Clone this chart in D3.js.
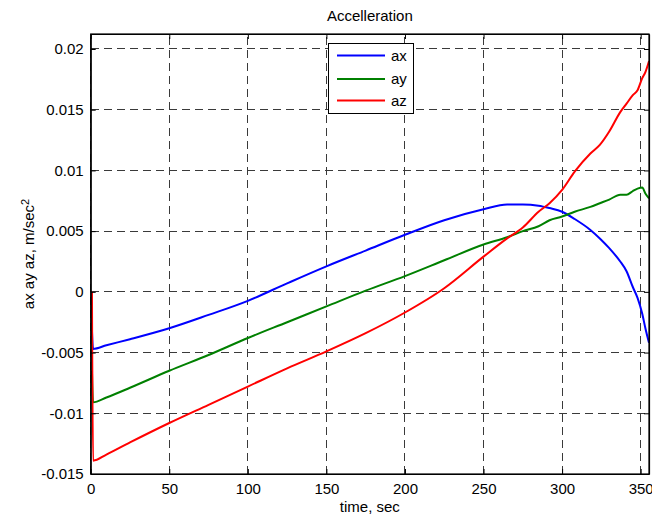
<!DOCTYPE html>
<html>
<head>
<meta charset="utf-8">
<script src="https://cdn.jsdelivr.net/npm/d3@7/dist/d3.min.js"></script>
<style>
  body { margin: 0; background: #fff; }
  svg { display: block; font-family: "Liberation Sans", Arial, sans-serif; }
</style>
</head>
<body>
<svg id="chart" width="652" height="516"></svg>
<script>
const titleText = "Accelleration";
const xLabel = "time, sec";
const seriesNames = ["ax", "ay", "az"];
const seriesColors = ["#0000ff", "#008000", "#ff0000"];
const xTicks = [0, 50, 100, 150, 200, 250, 300, 350];
const yTicks = [-0.015, -0.01, -0.005, 0, 0.005, 0.01, 0.015, 0.02];
const yTickLabels = ["-0.015", "-0.01", "-0.005", "0", "0.005", "0.01", "0.015", "0.02"];

const time = [0.8, 1.5, 10, 25, 50, 75, 100, 125, 150, 175, 200, 225, 250, 265, 275, 285, 292, 300, 308, 318, 324, 330, 337, 341, 345, 348, 351, 353, 355.3];
const ax = [-0.0032, -0.0047, -0.0044, -0.0039, -0.0030, -0.0019, -0.00074, 0.0007, 0.0021, 0.0034, 0.0047, 0.0059, 0.0068, 0.0072, 0.0072, 0.0071, 0.0069, 0.0066, 0.0060, 0.0051, 0.0044, 0.0036, 0.0025, 0.0017, 0.0004, -0.0005, -0.0018, -0.0030, -0.0042];
const ay = [-0.0065, -0.0091, -0.0087, -0.0079, -0.0065, -0.0052, -0.0038, -0.0025, -0.0012, 0.0001, 0.0013, 0.0026, 0.0039, 0.0045, 0.0050, 0.0054, 0.0059, 0.0062, 0.0066, 0.0070, 0.0073, 0.0076, 0.0080, 0.0080, 0.0083, 0.0085, 0.0086, 0.0081, 0.0077];
const az = [0.0, -0.0139, -0.0134, -0.0124, -0.0108, -0.0093, -0.0078, -0.0063, -0.0049, -0.0034, -0.0017, 0.0003, 0.0029, 0.0044, 0.0053, 0.0066, 0.0073, 0.0084, 0.0099, 0.0114, 0.0121, 0.0132, 0.0148, 0.0155, 0.0162, 0.0166, 0.0176, 0.0181, 0.0190];
const seriesValues = [ax, ay, az];

const svg = d3.select("#chart");
const L = 90.7, R = 649, T = 34, B = 474;
const x = d3.scaleLinear().domain([0, 355.3]).range([L, R]);
const y = d3.scaleLinear().domain([-0.015, 0.021235]).range([B, T]);

svg.append("rect").attr("width", 652).attr("height", 516).attr("fill", "#fff");

// grid
const grid = svg.append("g").attr("stroke", "#3a3a3a").attr("stroke-width", 1).attr("stroke-dasharray", "8,5").attr("shape-rendering", "crispEdges");
grid.selectAll(".gx").data(xTicks).join("line")
  .attr("x1", d => x(d)).attr("x2", d => x(d)).attr("y1", B).attr("y2", T);
grid.selectAll(".gy").data(yTicks).join("line")
  .attr("x1", L).attr("x2", R).attr("y1", d => y(d)).attr("y2", d => y(d));

// lines
const line = d3.line().x(d => x(d[0])).y(d => y(d[1])).curve(d3.curveMonotoneX);
seriesValues.forEach((vals, i) => {
  svg.append("path")
    .datum(time.map((t, j) => [t, vals[j]]))
    .attr("fill", "none")
    .attr("stroke", seriesColors[i])
    .attr("stroke-width", 2)
    .attr("stroke-linejoin", "round")
    .attr("d", line);
});

// axes with inward ticks (MATLAB style)
const fs = "15px";
const axB = svg.append("g").attr("transform", `translate(0,${B})`)
  .call(d3.axisBottom(x).tickValues(xTicks).tickSizeInner(-5).tickSizeOuter(0).tickPadding(9));
const axL = svg.append("g").attr("transform", `translate(${L},0)`)
  .call(d3.axisLeft(y).tickValues(yTicks).tickFormat((d, i) => yTickLabels[i]).tickSizeInner(-5).tickSizeOuter(0).tickPadding(7));
const axT = svg.append("g").attr("transform", `translate(0,${T})`)
  .call(d3.axisTop(x).tickValues(xTicks).tickSizeInner(-5).tickSizeOuter(0).tickFormat(""));
const axR = svg.append("g").attr("transform", `translate(${R},0)`)
  .call(d3.axisRight(y).tickValues(yTicks).tickSizeInner(-5).tickSizeOuter(0).tickFormat(""));
[axB, axL, axT, axR].forEach(g => {
  g.select(".domain").attr("stroke", "#000").attr("stroke-width", 1.2);
  g.selectAll(".tick line").attr("stroke", "#000");
  g.selectAll("text").attr("fill", "#000").style("font-size", fs).style("font-family", "'Liberation Sans', Arial, sans-serif");
});
axB.selectAll("text").attr("dy", "0.71em");

// box
svg.append("rect").attr("x", L).attr("y", T).attr("width", R - L).attr("height", B - T)
  .attr("fill", "none").attr("stroke", "#000").attr("stroke-width", 1.2);

// title & labels
svg.append("text").attr("x", (L + R) / 2).attr("y", 21).attr("text-anchor", "middle")
  .style("font-size", fs).text(titleText);
svg.append("text").attr("x", (L + R) / 2).attr("y", 512).attr("text-anchor", "middle")
  .style("font-size", fs).text(xLabel);
const yl = svg.append("text").attr("transform", `translate(34,${(T + B) / 2}) rotate(-90)`)
  .attr("text-anchor", "middle").style("font-size", fs);
yl.append("tspan").text("ax ay az, m/sec");
yl.append("tspan").attr("dy", "-0.45em").style("font-size", "11px").text("2");

// legend
const lg = svg.append("g");
lg.append("rect").attr("x", 328.5).attr("y", 43.5).attr("width", 85).attr("height", 70)
  .attr("fill", "#fff").attr("stroke", "#000").attr("stroke-width", 1);
const legendY = [55.5, 79, 100.5];
seriesNames.forEach((n, i) => {
  lg.append("line").attr("x1", 337).attr("x2", 385).attr("y1", legendY[i]).attr("y2", legendY[i])
    .attr("stroke", seriesColors[i]).attr("stroke-width", 2);
  lg.append("text").attr("x", 391).attr("y", legendY[i]).attr("dy", "0.35em")
    .style("font-size", fs).text(n);
});
</script>
</body>
</html>
